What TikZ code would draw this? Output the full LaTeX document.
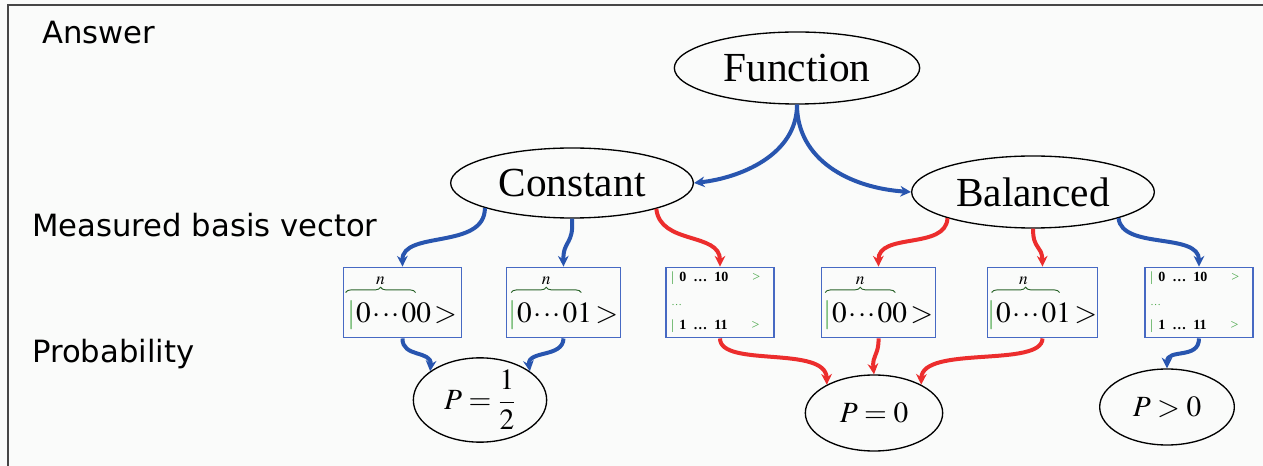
\documentclass[tikz,border=0pt]{standalone}
\usepackage{mathptmx}
\usepackage{fontspec}
\setmainfont{Liberation Serif}
\newfontfamily\lblfont{DejaVu Sans}
\usetikzlibrary{arrows.meta,shapes.geometric,calc,decorations.pathreplacing}
\definecolor{bg}{RGB}{250,251,250}
\definecolor{ablue}{RGB}{40,85,175}
\definecolor{ared}{RGB}{236,45,45}
\definecolor{bxblue}{RGB}{70,105,195}
\definecolor{mg}{RGB}{70,165,70}
\definecolor{frame}{RGB}{70,70,70}
\newcommand\bigket[1]{${\color{mg}|}0\mkern1mu{\cdot}\mkern1mu{\cdot}\mkern1mu{\cdot}\mkern1mu0#1\,{>}$}
\newcommand\smallket{{\color{mg}|}\hspace{4pt}\textbf{0 \,…\, 10}\hspace{18pt}{\color{mg}>}\\[5pt]{\color{mg}\footnotesize…}\\[5pt]{\color{mg}|}\hspace{4pt}\textbf{1 \,…\, 11}\hspace{18pt}{\color{mg}>}}
\newcommand\kbrace[4]{%
  \draw[brc] ($(#1.north west)+(#2,26)$) -- ($(#1.north west)+(#3,26)$);
  \node[nlbl] (#1n) at ($(#1.north west)+(#4,14)$) {$n$};}
\begin{document}
\begin{tikzpicture}[x=0.75pt,y=-0.75pt,
  ell/.style={draw=black, line width=1pt, ellipse, inner sep=0pt},
  bigtext/.style={font=\fontsize{31}{36}\selectfont},
  ptext/.style={font=\fontsize{22}{26}\selectfont},
  kbox/.style={draw=bxblue, line width=0.9pt, minimum height=53pt, inner sep=0pt},
  ketbox/.style={kbox, font=\fontsize{22}{24}\selectfont, text height=35pt, text depth=5pt},
  sbox/.style={kbox, inner xsep=4pt, text width=73pt, align=left, font=\fontsize{10.5}{13}\selectfont},
  brc/.style={decorate, decoration={brace, amplitude=4pt}, draw=mg!60!black, line width=0.7pt},
  nlbl/.style={inner sep=0pt, font=\fontsize{13}{14}\selectfont},
  conn/.style={line width=3pt, -{Stealth[length=8pt,width=8pt]}},
  lbl/.style={font={\lblfont\fontsize{23}{26}\selectfont}, inner sep=0pt, anchor=base west}]
\useasboundingbox (0,0) rectangle (1263,466);
\fill[bg] (0,0) rectangle (1263,466);
\draw[line width=1.5pt, frame] (7.5,466) -- (7.5,5.5) -- (1263,5.5);

% labels
\node[lbl] (ans) at (42,44) {Answer};
\node[lbl] (mbv) at (32,237) {Measured basis vector};
\node[lbl] (prob) at (32,363) {Probability};

% ellipses
\node[ell, bigtext, minimum width=184pt, minimum height=54pt] (fn) at (797,68) {Function};
\node[ell, bigtext, minimum width=182pt, minimum height=52.5pt] (con) at (572,183) {Constant};
\node[ell, bigtext, minimum width=182pt, minimum height=54pt] (bal) at (1033,192) {Balanced};

% boxes
\node[ketbox, minimum width=89pt] (b1) at (402.5,302.5) {\bigket{0}};
\node[ketbox, minimum width=85pt] (b2) at (563.5,302.5) {\bigket{1}};
\node[sbox] (b3) at (720,302.5) {\smallket};
\node[ketbox, minimum width=85pt] (b4) at (878.5,302.5) {\bigket{0}};
\node[ketbox, minimum width=83pt] (b5) at (1042.5,302.5) {\bigket{1}};
\node[sbox] (b6) at (1199,302.5) {\smallket};

\kbrace{b1}{3}{73}{38}
\kbrace{b2}{5}{75}{40}
\kbrace{b4}{4}{74}{39}
\kbrace{b5}{5}{73}{37}

% probabilities
\node[ell, ptext, minimum width=100pt, minimum height=55.5pt] (p1) at (480,400) {$P=\displaystyle\frac{1}{2}$};
\node[ell, ptext, minimum width=103pt, minimum height=57pt] (p0) at (874,413) {$P=0$};
\node[ell, ptext, minimum width=101pt, minimum height=57pt] (pg) at (1167,407) {$P>0$};

% connectors: top
\draw[conn, ablue] (fn.south) .. controls (797,155) and (740,178) .. (con.east);
\draw[conn, ablue] (fn.south) .. controls (797,160) and (850,188) .. (bal.west);

% constant -> boxes
\draw[conn, ablue] (con.196) .. controls (485,250) and (402,230) .. (b1.north);
\draw[conn, ablue] (con.south) .. controls (574,245) and (563,240) .. (b2.north);
\draw[conn, ared] (con.343) .. controls (660,245) and (720,232) .. (b3.north);

% balanced -> boxes
\draw[conn, ared] (bal.197) .. controls (946,250) and (878,232) .. (b4.north);
\draw[conn, ared] (bal.south) .. controls (1033,250) and (1042,245) .. (b5.north);
\draw[conn, ablue] (bal.343) .. controls (1122,250) and (1199,232) .. (b6.north);

% boxes -> probabilities
\draw[conn, ablue] (b1.south) .. controls (402,358) and (432,350) .. (p1.150);
\draw[conn, ablue] (b2.south) .. controls (563,358) and (527,350) .. (p1.30);
\draw[conn, ared] (b3.south) .. controls (720,368) and (826,345) .. (p0.149);
\draw[conn, ared] (b4.south) .. controls (879,355) and (872,355) .. (p0.north);
\draw[conn, ared] (b5.south) .. controls (1042,368) and (922,345) .. (p0.31);
\draw[conn, ablue] (b6.south) .. controls (1199,360) and (1167,348) .. (pg.north);
\end{tikzpicture}
\end{document}
